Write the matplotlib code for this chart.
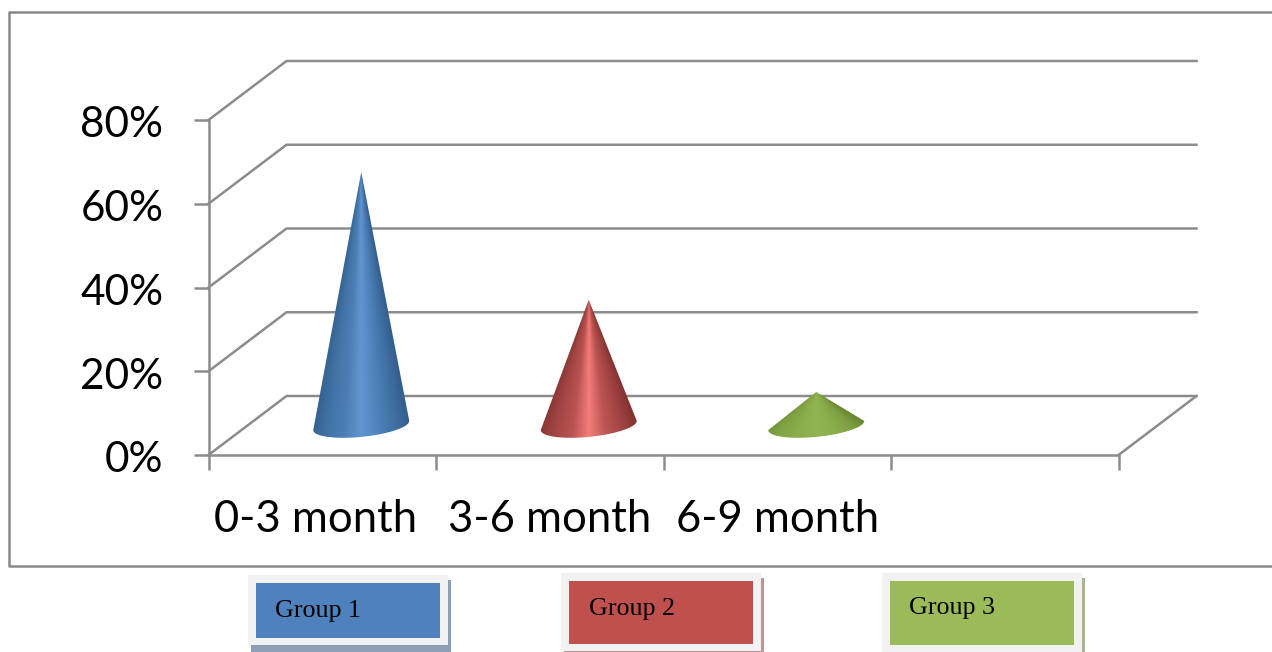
"""Cone chart of group share by age band, drawn in a fake 3D perspective."""

import matplotlib

matplotlib.use("Agg")
import matplotlib.pyplot as plt
import numpy as np
from matplotlib.colors import LinearSegmentedColormap
from matplotlib.patches import PathPatch, Rectangle
from matplotlib.path import Path

W, H = 1272, 652

categories = ["0-3 month", "3-6 month", "6-9 month"]
values = [60.5, 30, 8]
y_ticks = [0, 20, 40, 60, 80]
groups = ["Group 1", "Group 2", "Group 3"]
group_colors = ["#4f81bd", "#c0504d", "#9bbb59"]
group_shadows = ["#8e9fb5", "#bd9796", "#aab594"]
cone_ramps = [
    ["#34628f", "#4273a8", "#4c7eb5", "#6396d1", "#5084bd", "#4172a6", "#335f8e"],
    ["#8a3634", "#a44644", "#b85351", "#f57c7a", "#bc5553", "#a24442", "#843331"],
    ["#6c8c33", "#80a242", "#8aad4a", "#93b452", "#8aac4a", "#7fa041", "#6a8932"],
]

GRID = "#8c8c8c"
LW = 1.8
# floor depth in axis units: 78 px across, 59 px up
PX_PER_PCT = 335 / 80
DEPTH_X = 78 / 227.5
DEPTH_Y = 59 / PX_PER_PCT
HALF_W = 48 / 227.5
ELL_H = 12 / PX_PER_PCT
RIM_TILT = 1.1


def draw_cone(ax, pos, value, ramp):
    cx = pos + 0.5 + DEPTH_X / 2
    base = DEPTH_Y / 2
    tip = value + base
    # lower rim of the base, tilted to follow the floor
    t = np.linspace(np.pi, 2 * np.pi, 60)
    rim_x = cx + HALF_W * np.cos(t)
    rim_y = base + ELL_H * 0.95 * np.sin(t) + (rim_x - cx) / HALF_W * RIM_TILT
    verts = [(cx, tip)] + list(zip(rim_x, rim_y)) + [(cx, tip)]
    codes = [Path.MOVETO] + [Path.LINETO] * len(rim_x) + [Path.CLOSEPOLY]
    clip = PathPatch(Path(verts, codes), transform=ax.transData, fc="none", ec="none")
    ax.add_patch(clip)

    # shading converges on the apex, so it is tied to the local cone width
    bottom = base - 2 * ELL_H
    xs = np.linspace(-1, 1, 400)
    ys = np.linspace(tip, bottom, 500)
    gx, gy = np.meshgrid(xs, ys)
    local = np.maximum((tip - gy) / value, 1e-3)
    shade = np.clip(gx / local, -1, 1) * 0.5 + 0.5

    cmap = LinearSegmentedColormap.from_list("cone", ramp)
    im = ax.imshow(
        shade,
        cmap=cmap,
        vmin=0,
        vmax=1,
        aspect="auto",
        interpolation="bilinear",
        extent=(cx - HALF_W, cx + HALF_W, bottom, tip),
        zorder=4,
    )
    im.set_clip_path(clip)


def main():
    fig = plt.figure(figsize=(W / 100, H / 100), dpi=100, facecolor="white")

    # chart frame, open on the right where it runs off the canvas
    frame = fig.add_axes([0, 0, 1, 1])
    frame.set_xlim(0, W)
    frame.set_ylim(H, 0)
    frame.axis("off")
    frame.plot([W, 9, 9, W], [12, 12, 566, 566], color="#888888", lw=LW)

    # legend-like captions under the frame
    lefts = [248, 561, 882]
    tops = [575, 573, 573]
    bottoms = [645, 651, 652]
    text_y = [611, 609, 608]
    text_x = [275, 589, 909]
    for i, name in enumerate(groups):
        x0, y0, y1 = lefts[i], tops[i], bottoms[i]
        frame.add_patch(Rectangle((x0 + 3, y0 + 5), 200, y1 - y0 + 6, fc=group_shadows[i], ec="none", zorder=1))
        frame.add_patch(Rectangle((x0, y0), 200, y1 - y0, fc="#f2f2f2", ec="none", zorder=2))
        frame.add_patch(Rectangle((x0 + 8, y0 + 8), 184, y1 - y0 - 15, fc=group_colors[i], ec="none", zorder=3))
        frame.text(text_x[i], text_y[i], name, family="Liberation Serif", fontsize=18.7,
                   color="black", va="center", ha="left", zorder=4)

    ax = fig.add_axes([208.5 / W, 1 - 455 / H, 910 / W, 335 / H])
    ax.patch.set_alpha(0)
    for side in ["top", "right"]:
        ax.spines[side].set_visible(False)
    for side in ["left", "bottom"]:
        ax.spines[side].set_color(GRID)
        ax.spines[side].set_linewidth(LW)

    # walls: gridlines on the back, side lines running to the front axis
    for v in y_ticks:
        ax.plot([0, DEPTH_X, 4 + DEPTH_X], [v, v + DEPTH_Y, v + DEPTH_Y],
                color=GRID, lw=LW, clip_on=False, zorder=1)
    ax.plot([4, 4 + DEPTH_X], [0, DEPTH_Y], color=GRID, lw=LW, clip_on=False, zorder=1)

    for i, v in enumerate(values):
        draw_cone(ax, i, v, cone_ramps[i])

    ax.set_xlim(0, 4)
    ax.set_ylim(0, 80)
    ax.set_yticks(y_ticks, [""] * len(y_ticks))
    ax.set_xticks(range(5), [""] * 5)
    ax.tick_params(axis="both", color=GRID, width=LW, length=10.8)

    for v in y_ticks:
        ax.annotate(f"{v}%", (0, v), xytext=(-32.5, -3.8), textcoords="offset points", ha="right",
                    va="center", family="Lato", fontsize=30.5, annotation_clip=False)

    # category labels are centred on the floor, not on the tick marks
    label_x = [0.47, 1.50, 2.50]
    for x, name in zip(label_x, categories):
        ax.text(x, -15.3, name, ha="center", va="center", family="Lato", fontsize=31.4, color="black")

    fig.savefig("out.png", dpi=100, facecolor="white")
    plt.close(fig)


if __name__ == "__main__":
    main()
